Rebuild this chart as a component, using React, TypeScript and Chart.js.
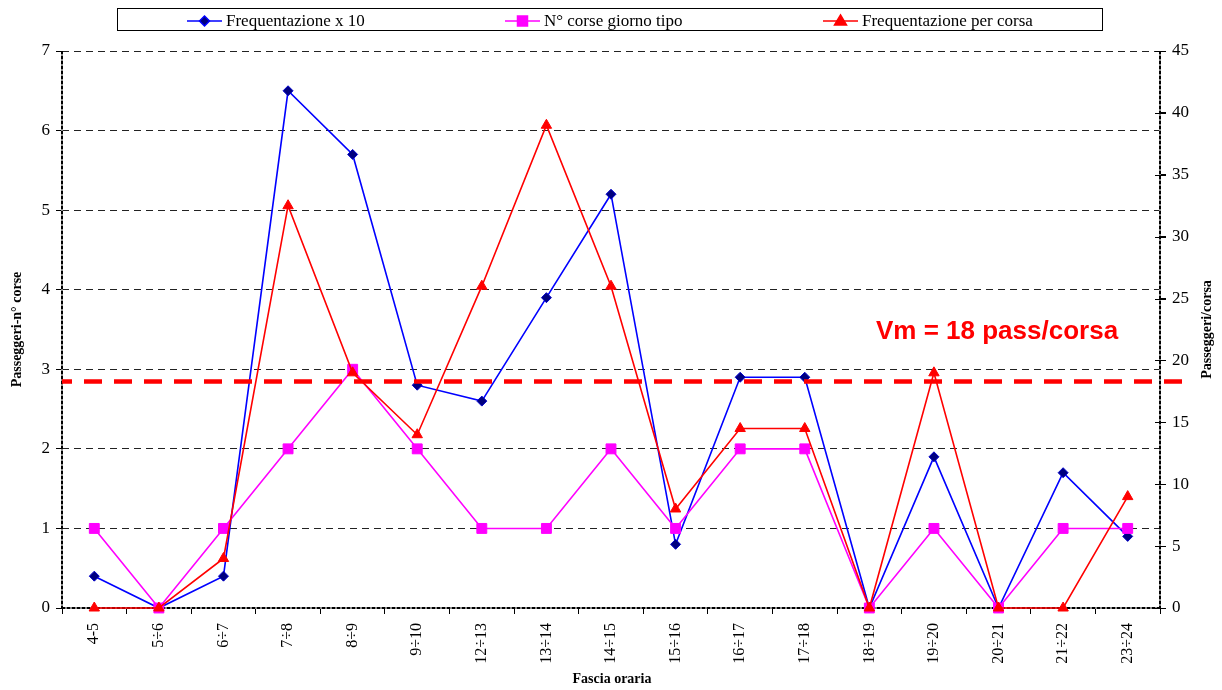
import React, { useEffect, useRef } from "react";
import { Chart, registerables } from "chart.js";

Chart.register(...registerables);

const categories = ["4-5", "5÷6", "6÷7", "7÷8", "8÷9", "9÷10", "12÷13", "13÷14", "14÷15", "15÷16", "16÷17", "17÷18", "18÷19", "19÷20", "20÷21", "21÷22", "23÷24"];
const frequentazioneX10 = [0.4, 0, 0.4, 6.5, 5.7, 2.8, 2.6, 3.9, 5.2, 0.8, 2.9, 2.9, 0, 1.9, 0, 1.7, 0.9];
const corseGiornoTipo = [1, 0, 1, 2, 3, 2, 1, 1, 2, 1, 2, 2, 0, 1, 0, 1, 1];
const frequentazionePerCorsa = [0, 0, 4, 32.5, 19, 14, 26, 39, 26, 8, 14.5, 14.5, 0, 19, 0, 0, 9];

const seriesNames = ["Frequentazione x 10", "N° corse giorno tipo", "Frequentazione per corsa"];
const leftAxisMax = 7;
const rightAxisMax = 45;
const rightAxisStep = 5;
const mediaValue = 18.3;
const mediaLabel = "Vm = 18 pass/corsa";
const leftTitle = "Passeggeri-n° corse";
const rightTitle = "Passeggeri/corsa";
const xTitle = "Fascia oraria";

const SERIF = "'Liberation Serif', 'Times New Roman', serif";
const SANS = "'Liberation Sans', Arial, sans-serif";
const BLUE = "#0000FF";
const MAGENTA = "#FF00FF";
const RED = "#FF0000";

const decorPlugin = {
  id: "decor",
  beforeDatasetsDraw(chart: any) {
    const { ctx, chartArea } = chart;
    const { left, right, bottom, top } = chartArea;
    ctx.save();
    const segs = [
      [left, top, left, bottom],
      [right, top, right, bottom],
      [left, bottom, right, bottom],
    ];
    for (const s of segs) {
      ctx.beginPath();
      ctx.strokeStyle = "#888";
      ctx.lineWidth = 2;
      ctx.setLineDash([]);
      ctx.moveTo(s[0], s[1]);
      ctx.lineTo(s[2], s[3]);
      ctx.stroke();
      ctx.beginPath();
      ctx.strokeStyle = "#000";
      ctx.lineWidth = 2;
      ctx.setLineDash([3, 2]);
      ctx.moveTo(s[0], s[1]);
      ctx.lineTo(s[2], s[3]);
      ctx.stroke();
    }
    const y1 = chart.scales.y1;
    ctx.setLineDash([]);
    ctx.strokeStyle = "#000";
    ctx.lineWidth = 1;
    for (let v = 0; v <= rightAxisMax; v += rightAxisStep) {
      const py = Math.round(y1.getPixelForValue(v)) + 0.5;
      ctx.beginPath();
      ctx.moveTo(right - 5, py);
      ctx.lineTo(right + 6, py);
      ctx.stroke();
    }
    ctx.restore();
  },
  afterDraw(chart: any) {
    const { ctx, chartArea } = chart;
    const { left, right, top, bottom } = chartArea;
    ctx.save();
    const y1 = chart.scales.y1;
    const py = y1.getPixelForValue(mediaValue);
    ctx.beginPath();
    ctx.strokeStyle = RED;
    ctx.lineWidth = 4.5;
    ctx.setLineDash([18, 12]);
    ctx.lineDashOffset = 8;
    ctx.moveTo(left, py);
    ctx.lineTo(right + 24, py);
    ctx.stroke();
    ctx.setLineDash([]);
    ctx.fillStyle = RED;
    ctx.font = `bold 26px ${SANS}`;
    ctx.textAlign = "left";
    ctx.textBaseline = "alphabetic";
    ctx.fillText(mediaLabel, 876, 339);

    ctx.fillStyle = "#000";
    ctx.font = `bold 14px ${SERIF}`;
    ctx.textAlign = "center";
    ctx.textBaseline = "middle";
    const cy = (top + bottom) / 2;
    ctx.save();
    ctx.translate(17, cy);
    ctx.rotate(-Math.PI / 2);
    ctx.fillText(leftTitle, 0, 0);
    ctx.restore();
    ctx.save();
    ctx.translate(1207, cy);
    ctx.rotate(-Math.PI / 2);
    ctx.fillText(rightTitle, 0, 0);
    ctx.restore();
    ctx.fillText(xTitle, 612, 679);

    ctx.strokeStyle = "#000";
    ctx.lineWidth = 1;
    ctx.strokeRect(117.5, 8.5, 985, 22);
    const ly = 21;
    const items = [
      { x: 187, color: BLUE, fill: "#000080", style: "diamond", text: seriesNames[0] },
      { x: 505, color: MAGENTA, fill: MAGENTA, style: "square", text: seriesNames[1] },
      { x: 823, color: RED, fill: RED, style: "triangle", text: seriesNames[2] },
    ];
    for (const it of items) {
      ctx.beginPath();
      ctx.strokeStyle = it.color;
      ctx.lineWidth = 1.5;
      ctx.moveTo(it.x, ly);
      ctx.lineTo(it.x + 35, ly);
      ctx.stroke();
      const mx = it.x + 17.5;
      ctx.fillStyle = it.fill;
      ctx.strokeStyle = it.color;
      ctx.beginPath();
      if (it.style === "diamond") {
        ctx.moveTo(mx, ly - 5);
        ctx.lineTo(mx + 5, ly);
        ctx.lineTo(mx, ly + 5);
        ctx.lineTo(mx - 5, ly);
        ctx.closePath();
      } else if (it.style === "square") {
        ctx.rect(mx - 5, ly - 5, 10, 10);
      } else {
        ctx.moveTo(mx, ly - 6);
        ctx.lineTo(mx + 6, ly + 4);
        ctx.lineTo(mx - 6, ly + 4);
        ctx.closePath();
      }
      ctx.fill();
      ctx.stroke();
      ctx.fillStyle = "#000";
      ctx.font = `17px ${SERIF}`;
      ctx.textAlign = "left";
      ctx.textBaseline = "middle";
      ctx.fillText(it.text, it.x + 39, ly + 1);
    }
    ctx.restore();
  },
};

export default function App() {
  const canvasRef = useRef<HTMLCanvasElement | null>(null);

  useEffect(() => {
    document.body.style.margin = "0";
    const canvas = canvasRef.current;
    if (!canvas) return;
    const chart = new Chart(canvas, {
      type: "line",
      data: {
        labels: categories,
        datasets: [
          {
            label: seriesNames[2],
            data: frequentazionePerCorsa,
            yAxisID: "y1",
            borderColor: RED,
            backgroundColor: RED,
            borderWidth: 1.6,
            pointStyle: "triangle",
            pointRadius: 6,
            pointBorderWidth: 1,
            tension: 0,
            clip: false,
            order: 0,
          },
          {
            label: seriesNames[1],
            data: corseGiornoTipo,
            yAxisID: "y",
            borderColor: MAGENTA,
            backgroundColor: MAGENTA,
            borderWidth: 1.6,
            pointStyle: "rect",
            pointRadius: 7,
            pointBorderWidth: 1,
            tension: 0,
            clip: false,
            order: 1,
          },
          {
            label: seriesNames[0],
            data: frequentazioneX10,
            yAxisID: "y",
            borderColor: BLUE,
            backgroundColor: "#000080",
            pointBorderColor: "#0000CC",
            borderWidth: 1.6,
            pointStyle: "rectRot",
            pointRadius: 5,
            pointBorderWidth: 1,
            tension: 0,
            clip: false,
            order: 2,
          },
        ],
      },
      options: {
        responsive: false,
        animation: false,
        devicePixelRatio: 1,
        layout: { padding: { top: 51, bottom: 0, left: 0, right: 0 } },
        plugins: { legend: { display: false }, tooltip: { enabled: false } },
        scales: {
          x: {
            type: "category",
            offset: true,
            grid: {
              offset: true,
              drawOnChartArea: false,
              drawTicks: true,
              tickLength: 6,
              color: "#000",
            },
            border: { display: false },
            ticks: {
              autoSkip: false,
              minRotation: 90,
              maxRotation: 90,
              padding: 9,
              color: "#000",
              font: { family: SERIF, size: 16 },
            },
            afterFit(scale: any) {
              scale.height = 82;
            },
          },
          y: {
            position: "left",
            min: 0,
            max: leftAxisMax,
            ticks: {
              stepSize: 1,
              padding: 6,
              color: "#000",
              font: { family: SERIF, size: 17 },
            },
            grid: {
              color: "#222",
              lineWidth: 1,
              tickLength: 6,
              tickColor: "#000",
              tickBorderDash: [],
            },
            border: { display: false, dash: [7, 5] },
            afterFit(scale: any) {
              scale.width = 62;
            },
          },
          y1: {
            position: "right",
            min: 0,
            max: rightAxisMax,
            ticks: {
              stepSize: rightAxisStep,
              padding: 6,
              color: "#000",
              font: { family: SERIF, size: 17 },
            },
            grid: {
              drawOnChartArea: false,
              drawTicks: true,
              tickLength: 6,
              color: "#000",
            },
            border: { display: false },
            afterFit(scale: any) {
              scale.width = 62;
            },
          },
        },
      },
      plugins: [decorPlugin],
    } as any);
    return () => chart.destroy();
  }, []);

  return (
    <div style={{ width: 1222, height: 690, background: "#fff" }}>
      <canvas ref={canvasRef} width={1222} height={690} style={{ display: "block" }} />
    </div>
  );
}
